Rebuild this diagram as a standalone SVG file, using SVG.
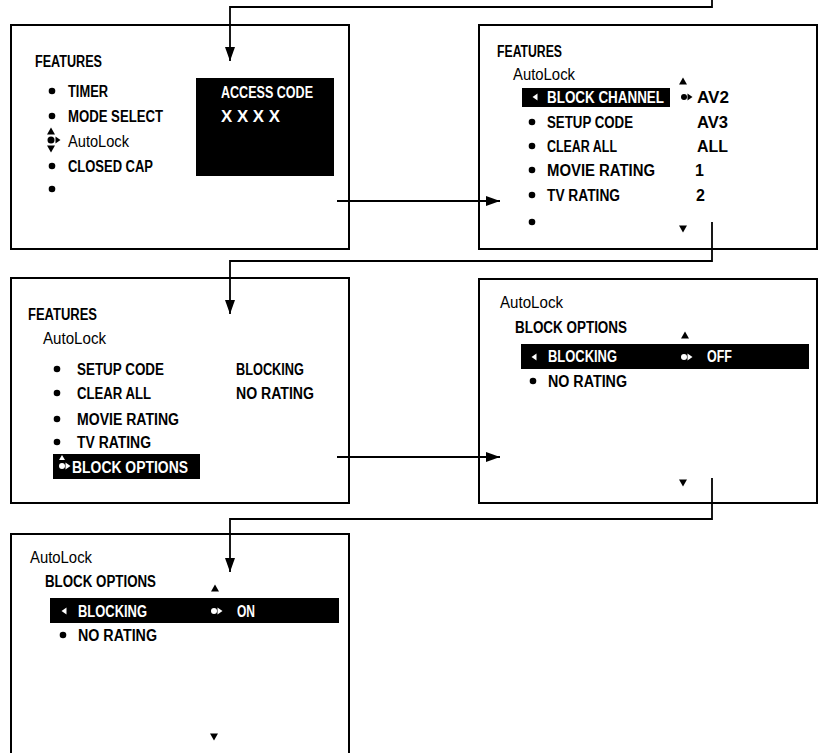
<svg xmlns="http://www.w3.org/2000/svg" xmlns:xlink="http://www.w3.org/1999/xlink" width="821" height="753" viewBox="0 0 821 753">
<style>
.panel{fill:#fff;stroke:#000;stroke-width:2}
.t{font-family:"Liberation Sans",Arial,sans-serif;font-size:16px;font-weight:bold;fill:#000}
.n{font-weight:normal;font-size:16.5px}
.w{fill:#fff}
.bar{fill:#000}
.conn{fill:none;stroke:#000;stroke-width:1.8}
</style>
<defs>
<marker id="ah" viewBox="0 0 14 10" refX="14" refY="5" markerWidth="14" markerHeight="10" markerUnits="userSpaceOnUse" orient="auto">
<path d="M0,0 L14,5 L0,10 Z" fill="#000"/>
</marker>
<path id="up" d="M0,-3.5 L4,3.5 L-4,3.5 Z"/>
<path id="dn" d="M0,3.5 L4,-3.5 L-4,-3.5 Z"/>
<path id="lt" d="M-2.5,0 L2.5,-3.5 L2.5,3.5 Z"/>
<path id="rt" d="M2.5,0 L-2.5,-3.5 L-2.5,3.5 Z"/>
</defs>
<rect width="821" height="753" fill="#fff"/>

<g id="panel1">
<rect class="panel" x="11" y="25" width="338" height="224"/>
<text class="t" x="35" y="67" textLength="67" lengthAdjust="spacingAndGlyphs">FEATURES</text>
<circle cx="52" cy="91" r="3.3"/>
<text class="t" x="68" y="97" textLength="40" lengthAdjust="spacingAndGlyphs">TIMER</text>
<circle cx="52" cy="116" r="3.3"/>
<text class="t" x="68" y="122" textLength="95" lengthAdjust="spacingAndGlyphs">MODE SELECT</text>
<use xlink:href="#up" x="51" y="131"/>
<circle cx="51" cy="140" r="3.5"/>
<use xlink:href="#rt" x="58" y="140"/>
<use xlink:href="#dn" x="51" y="149"/>
<text class="t n" x="68" y="147" textLength="61" lengthAdjust="spacingAndGlyphs">AutoLock</text>
<circle cx="52" cy="166" r="3.3"/>
<text class="t" x="68" y="172" textLength="85" lengthAdjust="spacingAndGlyphs">CLOSED CAP</text>
<circle cx="52" cy="189" r="3.3"/>
<rect class="bar" x="196" y="78" width="138" height="98"/>
<text class="t w" x="221" y="98" textLength="92" lengthAdjust="spacingAndGlyphs">ACCESS CODE</text>
<text class="t w" x="221" y="122" textLength="59" lengthAdjust="spacingAndGlyphs">X X X X</text>
</g>

<g id="panel2">
<rect class="panel" x="479" y="25" width="338" height="224"/>
<text class="t" x="497" y="57" textLength="65" lengthAdjust="spacingAndGlyphs">FEATURES</text>
<text class="t n" x="513" y="80" textLength="62" lengthAdjust="spacingAndGlyphs">AutoLock</text>
<use xlink:href="#up" x="683" y="81"/>
<rect class="bar" x="522" y="88" width="148" height="19"/>
<use xlink:href="#lt" x="535" y="97" class="w"/>
<text class="t w" x="547" y="103" textLength="117" lengthAdjust="spacingAndGlyphs">BLOCK CHANNEL</text>
<circle cx="684" cy="97" r="3"/>
<use xlink:href="#rt" x="690" y="97"/>
<text class="t" x="697" y="103" textLength="32" lengthAdjust="spacingAndGlyphs">AV2</text>
<circle cx="532" cy="122" r="3.3"/>
<text class="t" x="547" y="128" textLength="86" lengthAdjust="spacingAndGlyphs">SETUP CODE</text>
<text class="t" x="697" y="128" textLength="31" lengthAdjust="spacingAndGlyphs">AV3</text>
<circle cx="532" cy="146" r="3.3"/>
<text class="t" x="547" y="152" textLength="70" lengthAdjust="spacingAndGlyphs">CLEAR ALL</text>
<text class="t" x="697" y="152" textLength="31" lengthAdjust="spacingAndGlyphs">ALL</text>
<circle cx="532" cy="170" r="3.3"/>
<text class="t" x="547" y="176" textLength="108" lengthAdjust="spacingAndGlyphs">MOVIE RATING</text>
<text class="t" x="695" y="176">1</text>
<circle cx="532" cy="195" r="3.3"/>
<text class="t" x="547" y="201" textLength="73" lengthAdjust="spacingAndGlyphs">TV RATING</text>
<text class="t" x="696" y="201">2</text>
<circle cx="532" cy="222" r="3.3"/>
<use xlink:href="#dn" x="683" y="229"/>
</g>

<g id="panel3">
<rect class="panel" x="11" y="278" width="338" height="225"/>
<text class="t" x="28" y="320" textLength="69" lengthAdjust="spacingAndGlyphs">FEATURES</text>
<text class="t n" x="43" y="344" textLength="63" lengthAdjust="spacingAndGlyphs">AutoLock</text>
<circle cx="57" cy="369" r="3.3"/>
<text class="t" x="77" y="375" textLength="87" lengthAdjust="spacingAndGlyphs">SETUP CODE</text>
<text class="t" x="236" y="375" textLength="68" lengthAdjust="spacingAndGlyphs">BLOCKING</text>
<circle cx="57" cy="393" r="3.3"/>
<text class="t" x="77" y="399" textLength="74" lengthAdjust="spacingAndGlyphs">CLEAR ALL</text>
<text class="t" x="236" y="399" textLength="78" lengthAdjust="spacingAndGlyphs">NO RATING</text>
<circle cx="57" cy="419" r="3.3"/>
<text class="t" x="77" y="425" textLength="102" lengthAdjust="spacingAndGlyphs">MOVIE RATING</text>
<circle cx="57" cy="442" r="3.3"/>
<text class="t" x="77" y="448" textLength="74" lengthAdjust="spacingAndGlyphs">TV RATING</text>
<rect class="bar" x="53" y="454" width="147" height="25"/>
<path d="M62,455 L65,460 L59,460 Z" class="w"/>
<circle cx="62" cy="466" r="3" class="w"/>
<use xlink:href="#rt" x="68" y="466" class="w"/>
<text class="t w" x="72" y="473" textLength="116" lengthAdjust="spacingAndGlyphs">BLOCK OPTIONS</text>
</g>

<g id="panel4">
<rect class="panel" x="479" y="279" width="338" height="224"/>
<text class="t n" x="500" y="308" textLength="63" lengthAdjust="spacingAndGlyphs">AutoLock</text>
<text class="t" x="515" y="333" textLength="112" lengthAdjust="spacingAndGlyphs">BLOCK OPTIONS</text>
<use xlink:href="#up" x="685" y="335"/>
<rect class="bar" x="521" y="344" width="288" height="25"/>
<use xlink:href="#lt" x="534" y="357" class="w"/>
<text class="t w" x="548" y="362" textLength="69" lengthAdjust="spacingAndGlyphs">BLOCKING</text>
<circle cx="684" cy="357" r="3" class="w"/>
<use xlink:href="#rt" x="690" y="357" class="w"/>
<text class="t w" x="707" y="362" textLength="25" lengthAdjust="spacingAndGlyphs">OFF</text>
<circle cx="533" cy="381" r="3.3"/>
<text class="t" x="548" y="387" textLength="79" lengthAdjust="spacingAndGlyphs">NO RATING</text>
<use xlink:href="#dn" x="683" y="483"/>
</g>

<g id="panel5">
<rect class="panel" x="11" y="534" width="338" height="230"/>
<text class="t n" x="30" y="563" textLength="62" lengthAdjust="spacingAndGlyphs">AutoLock</text>
<text class="t" x="45" y="587" textLength="111" lengthAdjust="spacingAndGlyphs">BLOCK OPTIONS</text>
<use xlink:href="#up" x="215" y="588"/>
<rect class="bar" x="50" y="598" width="289" height="25"/>
<use xlink:href="#lt" x="64" y="611" class="w"/>
<text class="t w" x="78" y="617" textLength="69" lengthAdjust="spacingAndGlyphs">BLOCKING</text>
<circle cx="214" cy="611" r="3" class="w"/>
<use xlink:href="#rt" x="220" y="611" class="w"/>
<text class="t w" x="237" y="617" textLength="18" lengthAdjust="spacingAndGlyphs">ON</text>
<circle cx="63" cy="635" r="3.3"/>
<text class="t" x="78" y="641" textLength="79" lengthAdjust="spacingAndGlyphs">NO RATING</text>
<use xlink:href="#dn" x="214" y="737"/>
</g>

<g id="connectors">
<path class="conn" d="M712,0 V7 H230 V61" marker-end="url(#ah)"/>
<path class="conn" d="M337,201 H500" marker-end="url(#ah)"/>
<path class="conn" d="M712,222 V261 H230 V314" marker-end="url(#ah)"/>
<path class="conn" d="M337,457 H500" marker-end="url(#ah)"/>
<path class="conn" d="M712,478 V519 H230 V572" marker-end="url(#ah)"/>
</g>
</svg>
